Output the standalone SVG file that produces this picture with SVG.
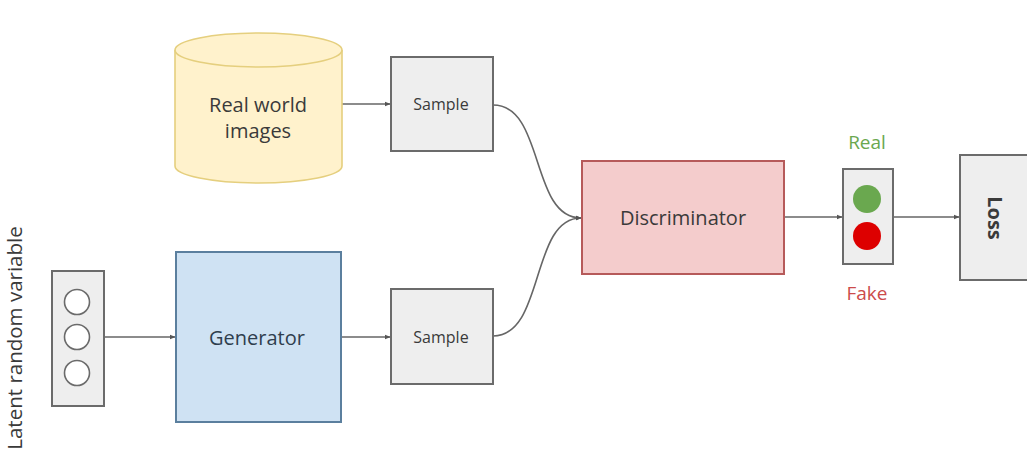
<svg xmlns="http://www.w3.org/2000/svg" width="1027" height="450" viewBox="0 0 1027 450">
<style>
text{font-family:"Open Sans","DejaVu Sans",sans-serif;text-anchor:middle;dominant-baseline:central}
.dark{fill:#3a3a3a}
.grey{fill:#eeeeee;stroke:#6b6b6b;stroke-width:2}
.conn{fill:none;stroke:#666666;stroke-width:1.6}
</style>
<defs>
<marker id="ah" viewBox="0 0 10 10" refX="9" refY="5" markerWidth="6" markerHeight="6" orient="auto" markerUnits="userSpaceOnUse">
<path d="M0,1 L10,5 L0,9 z" fill="#555555"/>
</marker>
</defs>
<rect width="1027" height="450" fill="#ffffff"/>

<g id="connectors">
<line class="conn" x1="90" y1="337" x2="175" y2="337" marker-end="url(#ah)"/>
<line class="conn" x1="342" y1="104" x2="390" y2="104" marker-end="url(#ah)"/>
<line class="conn" x1="341" y1="337" x2="390" y2="337" marker-end="url(#ah)"/>
<path class="conn" d="M493,105 C545,105 530,218 581,218" marker-end="url(#ah)"/>
<path class="conn" d="M493,336 C545,336 530,218 581,218" marker-end="url(#ah)"/>
<line class="conn" x1="784" y1="217" x2="842" y2="217" marker-end="url(#ah)"/>
<line class="conn" x1="893" y1="217" x2="959" y2="217" marker-end="url(#ah)"/>
</g>

<g id="latent">
<rect class="grey" x="52" y="271" width="52" height="135"/>
<circle cx="77" cy="302" r="12.5" fill="#ffffff" stroke="#6b6b6b" stroke-width="1.6"/>
<circle cx="77" cy="337" r="12.5" fill="#ffffff" stroke="#6b6b6b" stroke-width="1.6"/>
<circle cx="77" cy="373" r="12.5" fill="#ffffff" stroke="#6b6b6b" stroke-width="1.6"/>
<text class="dark" x="14" y="338" font-size="20.5" transform="rotate(-90 14 338)">Latent random variable</text>
</g>

<g id="real-world-images">
<path d="M175,50 L175,166 A83.5,17 0 0 0 342,166 L342,50" fill="#fff2cc" stroke="#e5cf7e" stroke-width="1.6"/>
<ellipse cx="258.5" cy="50" rx="83.5" ry="17" fill="#fff2cc" stroke="#e5cf7e" stroke-width="1.6"/>
<text class="dark" x="258" y="104" font-size="20">Real world</text>
<text class="dark" x="258" y="130" font-size="20">images</text>
</g>

<g id="sample-top">
<rect class="grey" x="391" y="57" width="102" height="94"/>
<text class="dark" x="441" y="104" font-size="16">Sample</text>
</g>

<g id="generator">
<rect x="176" y="252" width="165" height="170" fill="#cfe2f3" stroke="#5b7f9e" stroke-width="2"/>
<text x="257" y="337" font-size="20" style="fill:#2f3e4e">Generator</text>
</g>

<g id="sample-bottom">
<rect class="grey" x="391" y="289" width="102" height="95"/>
<text class="dark" x="441" y="337" font-size="16">Sample</text>
</g>

<g id="discriminator">
<rect x="582" y="161" width="202" height="113" fill="#f4cccc" stroke="#b65a5a" stroke-width="2"/>
<text class="dark" x="683" y="217" font-size="20">Discriminator</text>
</g>

<g id="output">
<rect class="grey" x="843" y="169" width="50" height="95"/>
<circle cx="867" cy="199" r="14" fill="#6aa84f"/>
<circle cx="867" cy="236" r="14" fill="#dd0000"/>
<text x="867" y="142" font-size="19" style="fill:#6aa84f">Real</text>
<text x="867" y="293" font-size="19" style="fill:#cc4b4b">Fake</text>
</g>

<g id="loss">
<rect class="grey" x="960" y="155" width="80" height="125"/>
<text class="dark" x="995" y="218" font-size="20" font-weight="bold" transform="rotate(90 995 218)">Loss</text>
</g>
</svg>
